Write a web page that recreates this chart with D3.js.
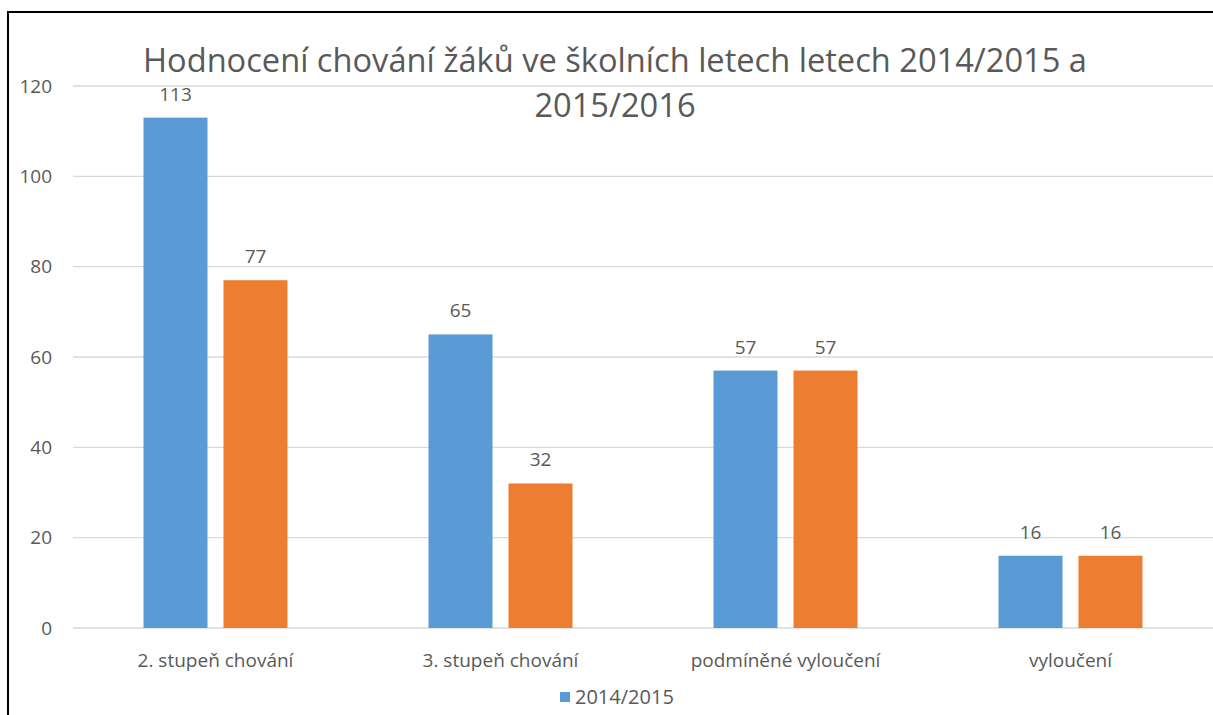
<!DOCTYPE html>
<html>
<head>
<meta charset="utf-8">
<script src="https://cdn.jsdelivr.net/npm/d3@7"></script>
<style>
  body { margin: 0; background: #fff; }
  text { font-family: "Open Sans", "Noto Sans", sans-serif; fill: #595959; }
</style>
</head>
<body>
<div id="chart"></div>
<script>
const categories = ["2. stupeň chování", "3. stupeň chování", "podmíněné vyloučení", "vyloučení"];
const seriesNames = ["2014/2015", "2015/2016"];
const values2014 = [113, 65, 57, 16];
const values2015 = [77, 32, 57, 16];
const yTicks = [0, 20, 40, 60, 80, 100, 120];
const colors = ["#5B9BD5", "#ED7D31"];

function createChart() {
  const W = 1213, H = 715;
  const left = 73, right = 1213, top = 86, bottom = 628;
  const smallFont = "19px";

  const svg = d3.select("#chart").append("svg")
      .attr("width", W)
      .attr("height", H);

  // frame (only top and left edges are visible in the crop)
  svg.append("path")
      .attr("d", `M8,${H + 5} L8,12 L${W + 5},12`)
      .style("fill", "none")
      .style("stroke", "#000")
      .style("stroke-width", 2);

  const x = d3.scaleBand()
      .domain(categories)
      .range([left, right]);

  const y = d3.scaleLinear()
      .domain([0, 120])
      .range([bottom, top]);

  // gridlines
  svg.append("g")
    .selectAll("line")
    .data(yTicks)
    .join("line")
      .attr("x1", left)
      .attr("x2", right)
      .attr("y1", d => y(d))
      .attr("y2", d => y(d))
      .style("stroke", "#d9d9d9")
      .style("stroke-width", 1.3);

  // y tick labels
  svg.append("g")
    .selectAll("text")
    .data(yTicks)
    .join("text")
      .attr("x", 52)
      .attr("y", d => y(d))
      .attr("dy", "0.35em")
      .style("text-anchor", "end")
      .style("font-size", smallFont)
      .text(d => d);

  // bars
  const barW = 64, gap = 16;
  const series = [values2014, values2015];
  series.forEach((vals, s) => {
    const offset = s === 0 ? -gap / 2 - barW : gap / 2;
    const g = svg.append("g");
    g.selectAll("rect")
      .data(vals)
      .join("rect")
        .attr("x", (d, i) => x(categories[i]) + x.bandwidth() / 2 + offset)
        .attr("y", d => y(d))
        .attr("width", barW)
        .attr("height", d => y(0) - y(d))
        .style("fill", colors[s]);

    g.selectAll("text")
      .data(vals)
      .join("text")
        .attr("x", (d, i) => x(categories[i]) + x.bandwidth() / 2 + offset + barW / 2)
        .attr("y", d => y(d) - 17)
        .style("text-anchor", "middle")
        .style("font-size", smallFont)
        .text(d => d);
  });

  // category labels
  svg.append("g")
    .selectAll("text")
    .data(categories)
    .join("text")
      .attr("x", d => x(d) + x.bandwidth() / 2)
      .attr("y", 667)
      .style("text-anchor", "middle")
      .style("font-size", smallFont)
      .text(d => d);

  // legend (second entry is cut off in the original)
  svg.append("rect")
      .attr("x", 560)
      .attr("y", 692)
      .attr("width", 10)
      .attr("height", 10)
      .style("fill", colors[0]);
  svg.append("text")
      .attr("x", 575)
      .attr("y", 704)
      .style("font-size", "20px")
      .text(seriesNames[0]);

  // title
  const t1 = svg.append("text")
      .attr("x", 615)
      .attr("y", 72)
      .style("text-anchor", "middle")
      .style("font-size", "27px")
      .text("Hodnocení chování žáků ve školních letech letech 2014/2015 a");
  const t2 = svg.append("text")
      .attr("x", 615)
      .attr("y", 117)
      .style("text-anchor", "middle")
      .style("font-size", "27px")
      .text("2015/2016");
  // fit title width to the original
  const w = t1.node().getComputedTextLength();
  const fs = 27 * 944 / w;
  t1.style("font-size", fs + "px");
  t2.style("font-size", fs + "px");
}

createChart();
</script>
</body>
</html>
